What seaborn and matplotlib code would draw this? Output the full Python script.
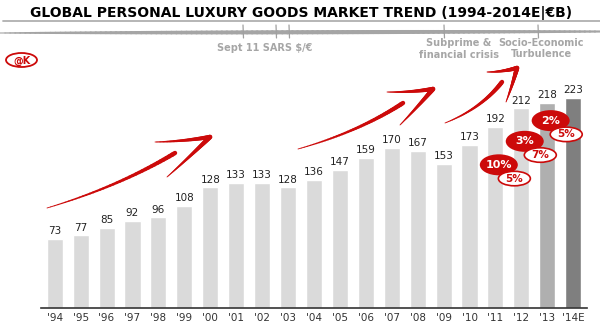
import numpy as np
import pandas as pd
import matplotlib
matplotlib.use("Agg")
import matplotlib.pyplot as plt
import seaborn as sns
from matplotlib.patches import Ellipse
from matplotlib.collections import LineCollection

# Market size by year (EUR billions)
years = ["'94", "'95", "'96", "'97", "'98", "'99", "'00", "'01", "'02", "'03",
         "'04", "'05", "'06", "'07", "'08", "'09", "'10", "'11", "'12", "'13", "'14E"]
values = [73, 77, 85, 92, 96, 108, 128, 133, 133, 128,
          136, 147, 159, 170, 167, 153, 173, 192, 212, 218, 223]

# Growth badges: year index, current-rate growth, constant-rate growth
badge_years = [17, 18, 19]
badge_growth = ["10%", "3%", "2%"]
badge_growth_const = ["5%", "7%", "5%"]
badge_y = [152, 177, 199]

# Timeline events
event_labels = ["Sept 11 SARS $/\u20ac", "Subprime &\nfinancial crisis", "Socio-Economic\nTurbulence"]

title = "GLOBAL PERSONAL LUXURY GOODS MARKET TREND (1994-2014E|\u20acB)"

RED = "#cc0a0a"
LIGHT = "#dadada"
bar_colors = [LIGHT] * 19 + ["#afafaf", "#7f7f7f"]

sns.set_theme(style="white")
plt.rcParams["font.family"] = ["DejaVu Sans"]

W, H = 600, 328
fig = plt.figure(figsize=(W / 100, H / 100), dpi=100)
ax = fig.add_axes([40.7 / W, 1 - 307.7 / H, (586.7 - 40.7) / W, 307.7 / H])

df = pd.DataFrame({"year": years, "value": values})
sns.barplot(data=df, x="year", y="value", hue="year", palette=bar_colors,
            legend=False, width=0.62, saturation=1, ax=ax)
ax.set_xlim(-0.54, 20.52)
ax.set_ylim(0, 307.7 / 0.94)
for c in ax.containers:
    ax.bar_label(c, padding=2, fontsize=7.5, color="#222222")

ax.set_xlabel("")
ax.set_ylabel("")
ax.set_yticks([])
ax.tick_params(axis="x", length=0, pad=3.5, labelsize=7.5, labelcolor="#333333")
for s in ["left", "right", "top"]:
    ax.spines[s].set_visible(False)
ax.spines["bottom"].set_color("#333333")
ax.spines["bottom"].set_linewidth(1.2)
ax.patch.set_alpha(0)

# Growth badges
rw, rh = 38 / 25.93, 21 / 0.94
ww, wh = 32 / 25.93, 14.5 / 0.94
for i, g, gc, y in zip(badge_years, badge_growth, badge_growth_const, badge_y):
    cx = i + 0.13
    ax.add_patch(Ellipse((cx, y), rw, rh, facecolor=RED, edgecolor="none",
                         zorder=5, clip_on=False))
    ax.text(cx, y, g, ha="center", va="center", color="white", fontsize=8,
            fontweight="bold", zorder=6, clip_on=False)
    wx, wy = cx + 0.6, y - 14.6
    ax.add_patch(Ellipse((wx, wy), ww, wh, facecolor="white", edgecolor=RED,
                         linewidth=1.2, zorder=7, clip_on=False))
    ax.text(wx, wy, gc, ha="center", va="center", color=RED, fontsize=7.5,
            fontweight="bold", zorder=8, clip_on=False)

# Overlay in pixel coordinates for title, timeline and trend arrows
ov = fig.add_axes([0, 0, 1, 1], zorder=3)
ov.set_xlim(0, W)
ov.set_ylim(H, 0)
ov.axis("off")
ov.patch.set_alpha(0)

ov.text(301, 12.5, title, ha="center", va="center", fontsize=10,
        fontweight="bold", color="black")
ov.plot([3, 600], [20.5, 20.5], color="#b0b0b0", lw=1.3)

# Timeline bar, thickening towards the right
tx = np.linspace(0, 600, 120)
ty = 33 - 1.5 * tx / 600
pts = np.column_stack([tx, ty]).reshape(-1, 1, 2)
segs = np.concatenate([pts[:-1], pts[1:]], axis=1)
lw = 0.8 + 2.2 * np.sin(np.pi * np.clip(tx[:-1] / 640, 0, 1)) ** 0.7
ov.add_collection(LineCollection(segs, linewidths=lw, colors="#a5a5a5", capstyle="round"))
for x in [243, 276, 289, 444, 538]:
    ov.plot([x, x + 0.5], [25, 38], color="#a0a0a0", lw=0.9)

ov.text(265, 48, event_labels[0], ha="center", va="center", fontsize=7,
        fontweight="bold", color="#a6a6a6")
ov.text(459, 49, event_labels[1], ha="center", va="center", fontsize=7,
        fontweight="bold", color="#a6a6a6", linespacing=1.15)
ov.text(541, 48.5, event_labels[2], ha="center", va="center", fontsize=7,
        fontweight="bold", color="#a6a6a6", linespacing=1.15)

# @K mark
ov.add_patch(Ellipse((21.5, 60), 31, 14, facecolor="white", edgecolor=RED, lw=1.3))
ov.text(21.5, 60.5, "@K", ha="center", va="center", fontsize=7, fontweight="bold",
        color=RED)


def brush(p0, pc, p1, w0, w1, n=40):
    t = np.linspace(0, 1, n)[:, None]
    p0, pc, p1 = map(np.asarray, (p0, pc, p1))
    curve = (1 - t) ** 2 * p0 + 2 * (1 - t) * t * pc + t ** 2 * p1
    p = curve.reshape(-1, 1, 2)
    s = np.concatenate([p[:-1], p[1:]], axis=1)
    widths = np.linspace(w0, w1, n - 1)
    ov.add_collection(LineCollection(s, linewidths=widths, colors=RED, capstyle="round"))


def arrow(start, shaft_end, head_a, tip, head_b):
    mid = ((start[0] + shaft_end[0]) / 2 + 8, (start[1] + shaft_end[1]) / 2 + 6)
    brush(start, mid, shaft_end, 0.6, 3.2)
    brush(head_a, ((head_a[0] + tip[0]) / 2, (head_a[1] + tip[1]) / 2 + 2), tip, 0.6, 3.2)
    brush(tip, ((tip[0] + head_b[0]) / 2 + 1, (tip[1] + head_b[1]) / 2), head_b, 3.4, 0.6)


arrow((47, 208), (175, 153), (155, 142), (210, 137), (167, 177))
arrow((298, 149), (403, 103), (387, 92), (433, 89), (400, 125))
arrow((445, 123), (502, 82), (487, 72), (517, 68), (506, 102))

fig.savefig("out.png", dpi=100)
